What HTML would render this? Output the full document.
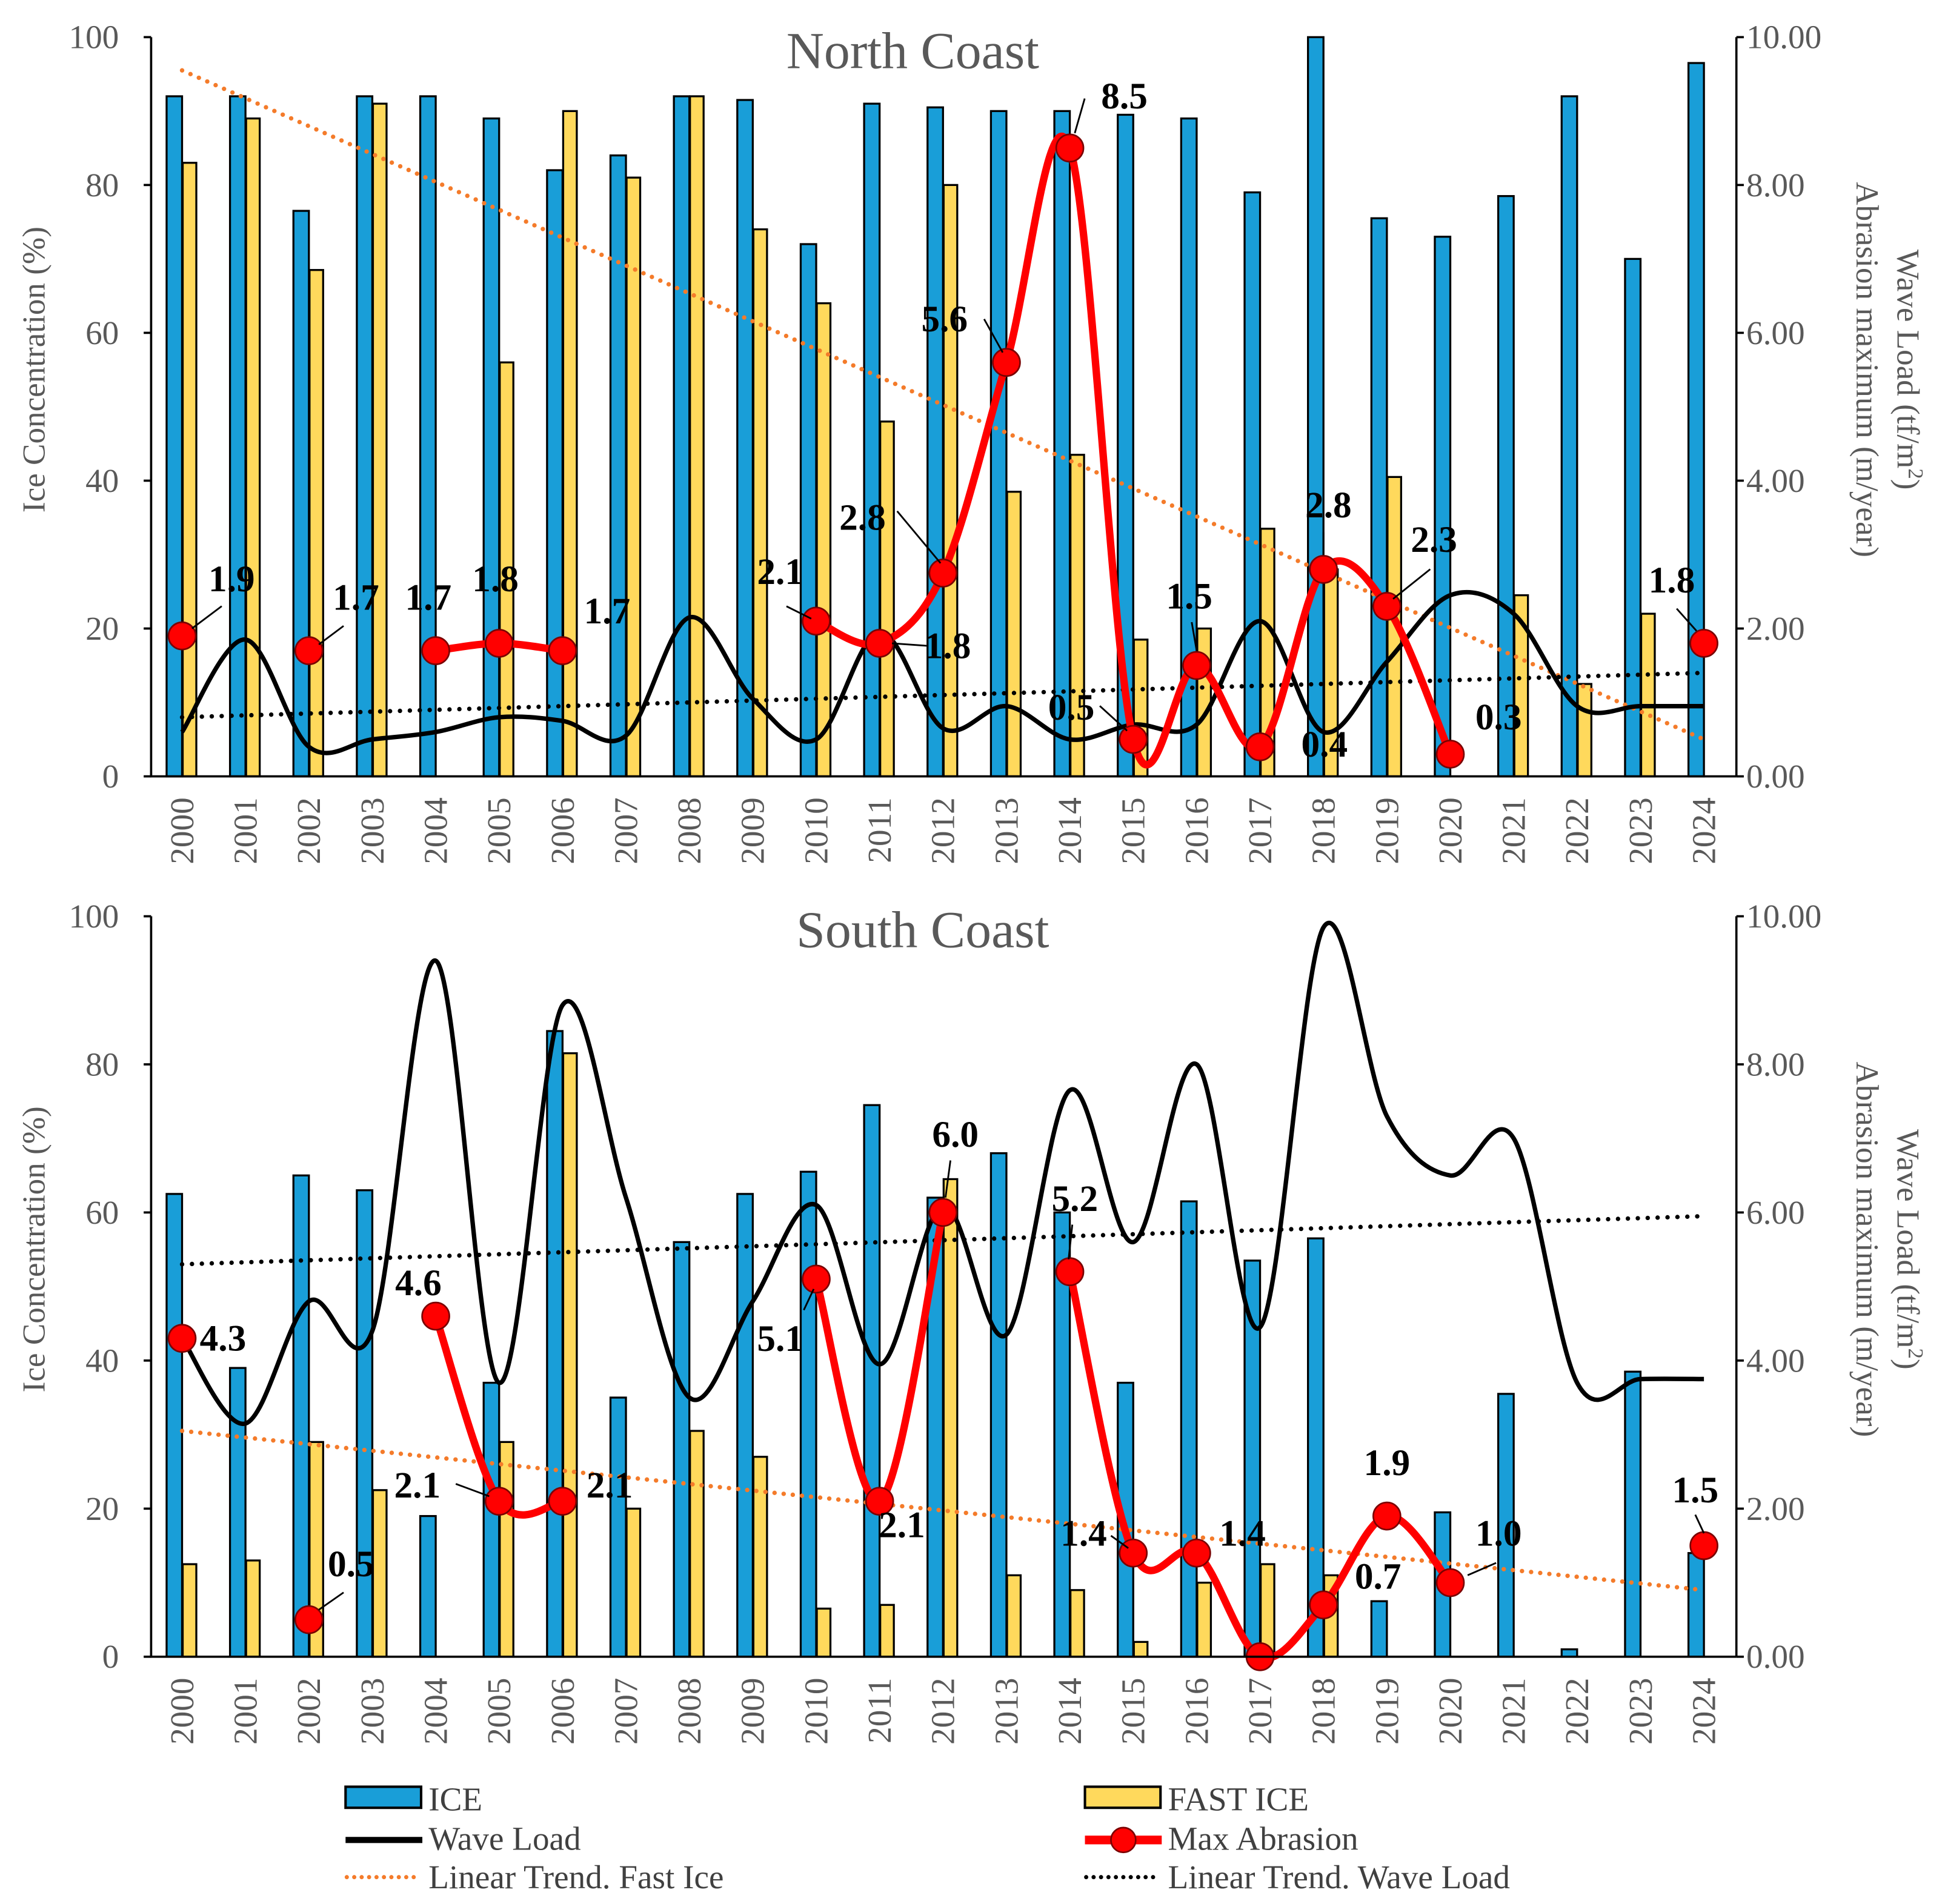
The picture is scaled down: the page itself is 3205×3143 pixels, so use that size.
<!DOCTYPE html>
<html><head><meta charset="utf-8">
<style>
html,body{margin:0;padding:0;background:#fff;}
svg{display:block;}
text{font-family:"Liberation Serif",serif;}
</style></head>
<body>
<svg id="chart" xmlns="http://www.w3.org/2000/svg" width="3205" height="3143" viewBox="0 0 1568 1537.7"></svg>
<script>
const years = [2000,2001,2002,2003,2004,2005,2006,2007,2008,2009,2010,2011,2012,2013,2014,2015,2016,2017,2018,2019,2020,2021,2022,2023,2024];
const northIce = [92,92,76.5,92,92,89,82,84,92,91.5,72,91,90.5,90,90,89.5,89,79,100,75.5,73,78.5,92,70,96.5];
const northFast = [83,89,68.5,91,0,56,90,81,92,74,64,48,80,38.5,43.5,18.5,20,33.5,28,40.5,0,24.5,12.5,22,0];
const northWave = [0.6,1.85,0.4,0.5,0.6,0.8,0.75,0.55,2.15,1.05,0.5,1.95,0.65,0.95,0.5,0.7,0.7,2.1,0.6,1.55,2.45,2.2,0.95,0.95,0.95];
const northAbr = [1.9,null,1.7,null,1.7,1.8,1.7,null,null,null,2.1,1.8,2.75,5.6,8.5,0.5,1.5,0.4,2.8,2.3,0.3,null,null,null,1.8];
const northAbrLabels = ["1.9","","1.7","","1.7","1.8","1.7","","","","2.1","1.8","2.8","5.6","8.5","0.5","1.5","0.4","2.8","2.3","0.3","","","","1.8"];
const northFastTrend = [95.5,5];
const northWaveTrend = [0.8,1.4];

const southIce = [62.5,39,65,63,19,37,84.5,35,56,62.5,65.5,74.5,62,68,60,37,61.5,53.5,56.5,7.5,19.5,35.5,1,38.5,14];
const southFast = [12.5,13,29,22.5,0,29,81.5,20,30.5,27,6.5,7,64.5,11,9,2,10,12.5,11,0,0,0,0,0,0];
const southWave = [4.3,3.15,4.8,4.4,9.4,3.7,8.8,6.2,3.5,4.8,6.1,3.95,6.1,4.35,7.65,5.6,8.0,4.45,9.85,7.3,6.5,7.0,3.7,3.75,3.75];
const southAbr = [4.3,null,0.5,null,4.6,2.1,2.1,null,null,null,5.1,2.1,6.0,null,5.2,1.4,1.4,0,0.7,1.9,1.0,null,null,null,1.5];
const southAbrLabels = ["4.3","","0.5","","4.6","2.1","2.1","","","","5.1","2.1","6.0","","5.2","1.4","1.4","","0.7","1.9","1.0","","","","1.5"];
const southFastTrend = [30.5,9];
const southWaveTrend = [5.3,5.95];

const leftTicks = ["0","20","40","60","80","100"];
const rightTicks = ["0.00","2.00","4.00","6.00","8.00","10.00"];

// label placement: text baseline offset (dx,dy) from marker and optional leader line
const northLab = {0:[40,-36,[8,-6,32,-24]],2:[38,-33,[8,-5,28,-20]],4:[-6,-33,null],5:[-3,-42,null],6:[36,-22,null],10:[-29,-30,[-24,-12,-4,-2]],11:[55,12,[10,0,38,2]],12:[-65,-35,[-37,-50,-2,-8]],13:[-50,-25,[-18,-35,-3,-8]],14:[44,-32,[12,-40,4,-12]],15:[-50,-16,[-27,-27,-5,-7]],16:[-6,-46,[-4,-35,0,-12]],17:[52,8,null],18:[4,-42,[0,-30,0,-12]],19:[38,-44,[35,-30,5,-6]],20:[39,-20,null],24:[-26,-41,[-22,-28,-6,-10]]};
const southLab = {0:[33,10,null],2:[34,-35,[8,-8,28,-22]],4:[-14,-17,null],5:[-66,-3,[-35,-14,-8,-4]],6:[38,-3,null],10:[-29,58,[-10,25,-2,8]],11:[18,29,null],12:[10,-53,[6,-42,2,-12]],14:[4,-49,[2,-38,-1,-10]],15:[-40,-6,[-18,-14,-4,-4]],16:[37,-6,null],18:[44,-13,null],19:[0,-33,null],20:[39,-30,[14,-6,37,-16]],24:[-7,-35,[-7,-25,0,-10]]};

const svg = document.getElementById('chart');
const NS = 'http://www.w3.org/2000/svg';
function mk(tag, attrs, parent){
  const e = document.createElementNS(NS, tag);
  for (const k in attrs) e.setAttribute(k, attrs[k]);
  (parent||svg).appendChild(e);
  return e;
}
const X0 = 122, X1 = 1402;
function xOf(i){ return 147 + 51.2*i; }

function smoothPath(pts){
  let d = 'M'+pts[0][0]+','+pts[0][1];
  for (let i=0;i<pts.length-1;i++){
    const p0 = pts[Math.max(0,i-1)], p1 = pts[i], p2 = pts[i+1], p3 = pts[Math.min(pts.length-1,i+2)];
    const c1x = p1[0]+(p2[0]-p0[0])/6, c1y = p1[1]+(p2[1]-p0[1])/6;
    const c2x = p2[0]-(p3[0]-p1[0])/6, c2y = p2[1]-(p3[1]-p1[1])/6;
    d += ' C'+c1x+','+c1y+' '+c2x+','+c2y+' '+p2[0]+','+p2[1];
  }
  return d;
}

function panel(p){
  const yTop = p.yTop, yBot = p.yBot, H = yBot - yTop;
  const yL = v => yBot - H*v/100;
  const yR = v => yBot - H*v/10;
  const g = mk('g', {});
  
  

  years.forEach((yr,i)=>{
    const x = xOf(i);
    const b = mk('rect', {x:x-12.5, y:yL(p.ice[i]), width:12.5, height:yBot-yL(p.ice[i]), fill:'#199ed8', stroke:'#000', 'stroke-width':1.6}, g);
    
    
    if (p.fast[i] > 0){
      const f = mk('rect', {x:x+0.5, y:yL(p.fast[i]), width:11, height:yBot-yL(p.fast[i]), fill:'#ffd95c', stroke:'#000', 'stroke-width':1.6}, g);
      
      
    }
  });

  const n = years.length-1;
  const tf = mk('line', {x1:xOf(0), y1:yL(p.fastTrend[0]), x2:xOf(n), y2:yL(p.fastTrend[1]), stroke:'#f47b2a', 'stroke-width':3.6, 'stroke-linecap':'round', 'stroke-dasharray':'0 7.4'}, g);
  
  
  const tw = mk('line', {x1:xOf(0), y1:yR(p.waveTrend[0]), x2:xOf(n), y2:yR(p.waveTrend[1]), stroke:'#000', 'stroke-width':3.6, 'stroke-linecap':'round', 'stroke-dasharray':'0 8'}, g);
  
  

  const wpts = p.wave.map((v,i)=>[xOf(i), yR(v)]);
  const wl = mk('path', {d:smoothPath(wpts), fill:'none', stroke:'#000', 'stroke-width':3.6}, g);
  
  

  let seg = [];
  const segs = [];
  p.abr.forEach((v,i)=>{
    if (v === null){ if (seg.length) segs.push(seg); seg = []; }
    else seg.push([xOf(i), yR(v)]);
  });
  if (seg.length) segs.push(seg);
  segs.forEach(s=>{
    if (s.length > 1){
      const al = mk('path', {d:smoothPath(s), fill:'none', stroke:'#ff0000', 'stroke-width':6}, g);
      
      
    }
  });
  p.abr.forEach((v,i)=>{
    if (v === null) return;
    const cx = xOf(i), cy = yR(v);
    const m = mk('circle', {cx:cx, cy:cy, r:11, fill:'#ff0000', stroke:'#7a0000', 'stroke-width':1.3}, g);
    
    
    const L = p.lab[i];
    if (L && p.labels[i]){
      if (L[2]){
        const ll = mk('line', {x1:cx+L[2][0], y1:cy+L[2][1], x2:cx+L[2][2], y2:cy+L[2][3], stroke:'#000', 'stroke-width':1.4}, g);
        
        
      }
      const t = mk('text', {x:cx+L[0], y:cy+L[1], 'text-anchor':'middle', 'font-size':30, 'font-weight':'bold', fill:'#000'}, g);
      t.textContent = p.labels[i];
      
      
    }
  });

  const ax = mk('path', {d:'M'+X0+','+yTop+' L'+X0+','+yBot+' L'+X1+','+yBot+' M'+X1+','+yTop+' L'+X1+','+yBot, fill:'none', stroke:'#000', 'stroke-width':1.8}, g);
  
  
  leftTicks.forEach((lbl,k)=>{
    const y = yBot - H*k/5;
    mk('line', {x1:X0-6, y1:y, x2:X0, y2:y, stroke:'#000', 'stroke-width':1.8}, g);
    mk('line', {x1:X1, y1:y, x2:X1+6, y2:y, stroke:'#000', 'stroke-width':1.8}, g);
    const t = mk('text', {x:96, y:y+9, 'text-anchor':'end', 'font-size':27, fill:'#595959'}, g);
    t.textContent = lbl;
    
    
    const r = mk('text', {x:1410, y:y+9, 'text-anchor':'start', 'font-size':27, fill:'#595959'}, g);
    r.textContent = rightTicks[k];
    
    
  });
  years.forEach((yr,i)=>{
    const x = xOf(i);
    const t = mk('text', {transform:'translate('+(x+9)+','+(yBot+17)+') rotate(-90)', 'text-anchor':'end', 'font-size':27, fill:'#595959'}, g);
    t.textContent = yr;
    
    
  });
  const title = mk('text', {x:p.titleX, y:yTop+25, 'text-anchor':'middle', 'font-size':42, fill:'#595959'}, g);
  title.textContent = p.title;
  
  
  const cy = (yTop+yBot)/2;
  const lt = mk('text', {transform:'translate(36,'+(cy-30)+') rotate(-90)', 'text-anchor':'middle', 'font-size':26, fill:'#595959'}, g);
  lt.textContent = 'Ice Concentration (%)';
  
  
  const r1 = mk('text', {transform:'translate(1532,'+(cy-30)+') rotate(90)', 'text-anchor':'middle', 'font-size':26, fill:'#595959'}, g);
  r1.innerHTML = 'Wave Load (tf/m<tspan dy="-9" font-size="17">2</tspan><tspan dy="9">)</tspan>';
  
  
  const r2 = mk('text', {transform:'translate(1499,'+(cy-30)+') rotate(90)', 'text-anchor':'middle', 'font-size':26, fill:'#595959'}, g);
  r2.textContent = 'Abrasion maximum (m/year)';
  
  
}

panel({name:'north-coast-panel', title:'North Coast', titleX:737, yTop:30, yBot:627, ice:northIce, fast:northFast, wave:northWave, abr:northAbr, labels:northAbrLabels, lab:northLab, fastTrend:northFastTrend, waveTrend:northWaveTrend});
panel({name:'south-coast-panel', title:'South Coast', titleX:745, yTop:740, yBot:1338, ice:southIce, fast:southFast, wave:southWave, abr:southAbr, labels:southAbrLabels, lab:southLab, fastTrend:southFastTrend, waveTrend:southWaveTrend});

const lg = mk('g', {});


function legText(x,y,s,name){
  const t = mk('text', {x:x, y:y, 'font-size':27, fill:'#404040'}, lg);
  t.textContent = s;
  
  
}
mk('rect', {x:279, y:1443, width:61, height:17, fill:'#199ed8', stroke:'#000', 'stroke-width':2}, lg);
legText(346, 1462, 'ICE', 'legend-entry-ice');
mk('rect', {x:876, y:1443, width:61, height:17, fill:'#ffd95c', stroke:'#000', 'stroke-width':2}, lg);
legText(943, 1462, 'FAST ICE', 'legend-entry-fast-ice');
mk('line', {x1:279, y1:1486, x2:341, y2:1486, stroke:'#000', 'stroke-width':5}, lg);
legText(346, 1494, 'Wave Load', 'legend-entry-wave-load');
mk('line', {x1:876, y1:1486, x2:938, y2:1486, stroke:'#ff0000', 'stroke-width':7}, lg);
mk('circle', {cx:907, cy:1486, r:10, fill:'#ff0000', stroke:'#7a0000', 'stroke-width':1.3}, lg);
legText(943, 1494, 'Max Abrasion', 'legend-entry-max-abrasion');
mk('line', {x1:280, y1:1516, x2:340, y2:1516, stroke:'#f47b2a', 'stroke-width':3.4, 'stroke-linecap':'round', 'stroke-dasharray':'0 6'}, lg);
legText(346, 1525, 'Linear Trend. Fast Ice', 'legend-entry-fast-ice-trend');
mk('line', {x1:877, y1:1516, x2:937, y2:1516, stroke:'#000', 'stroke-width':3.4, 'stroke-linecap':'round', 'stroke-dasharray':'0 6'}, lg);
legText(943, 1525, 'Linear Trend. Wave Load', 'legend-entry-wave-load-trend');
</script>
</body></html>
